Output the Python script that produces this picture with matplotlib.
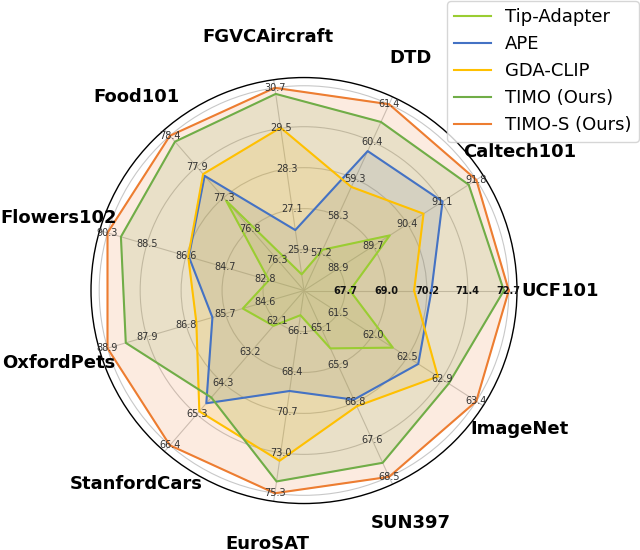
import numpy as np
import matplotlib
matplotlib.use("Agg")
import matplotlib.pyplot as plt

categories = ["UCF101", "Caltech101", "DTD", "FGVCAircraft", "Food101", "Flowers102",
              "OxfordPets", "StanfordCars", "EuroSAT", "SUN397", "ImageNet"]

tip_adapter = [67.85, 89.98, 57.30, 25.18, 77.30, 82.60, 85.20, 62.25, 65.20, 65.57, 62.25]
ape         = [70.34, 91.09, 60.08, 26.49, 77.72, 86.42, 86.03, 64.94, 69.50, 66.74, 62.60]
gda_clip    = [69.81, 90.69, 59.07, 29.52, 77.75, 86.45, 86.47, 65.22, 73.46, 66.89, 62.87]
timo        = [72.55, 91.64, 60.90, 30.52, 78.30, 89.66, 88.40, 64.74, 74.63, 68.18, 63.02]
timo_s      = [72.70, 91.80, 61.40, 30.70, 78.40, 90.30, 88.90, 66.40, 75.30, 68.50, 63.40]

tick_labels = [
    ["67.7", "69.0", "70.2", "71.4", "72.7"],
    ["88.9", "89.7", "90.4", "91.1", "91.8"],
    ["57.2", "58.3", "59.3", "60.4", "61.4"],
    ["25.9", "27.1", "28.3", "29.5", "30.7"],
    ["76.3", "76.8", "77.3", "77.9", "78.4"],
    ["82.8", "84.7", "86.6", "88.5", "90.3"],
    ["84.6", "85.7", "86.8", "87.9", "88.9"],
    ["62.1", "63.2", "64.3", "65.3", "66.4"],
    ["66.1", "68.4", "70.7", "73.0", "75.3"],
    ["65.1", "65.9", "66.8", "67.6", "68.5"],
    ["61.5", "62.0", "62.5", "62.9", "63.4"],
]

series_names = ["Tip-Adapter", "APE", "GDA-CLIP", "TIMO (Ours)", "TIMO-S (Ours)"]
series_values = [tip_adapter, ape, gda_clip, timo, timo_s]
colors = ["#9ACD32", "#4472C4", "#FFC000", "#70AD47", "#ED7D31"]

rings = [0.2, 0.4, 0.6, 0.8, 1.0]

def normalize(vals):
    out = []
    for i, v in enumerate(vals):
        lo = float(tick_labels[i][0]); hi = float(tick_labels[i][-1])
        out.append(rings[0] + (rings[-1] - rings[0]) * (v - lo) / (hi - lo))
    return out

n = len(categories)
angles = np.linspace(0, 2 * np.pi, n, endpoint=False)
ang_closed = np.concatenate([angles, angles[:1]])

fig = plt.figure(figsize=(6.4, 5.5), dpi=100)
ax = fig.add_axes([0.1422, 0.0845, 0.6656, 0.7745], projection="polar")

for name, vals, c in zip(series_names, series_values, colors):
    r = normalize(vals)
    r = r + r[:1]
    ax.fill(ang_closed, r, color=c, alpha=0.15, zorder=2)
    ax.plot(ang_closed, r, color=c, lw=1.5, label=name, zorder=3)

ax.set_ylim(0, 1.04)
ax.set_yticks(rings)
ax.set_yticklabels([])
ax.set_xticks(angles)
ax.set_xticklabels([])
ax.grid(color="#c8c8c8", lw=0.8)
ax.spines["polar"].set_color("black")
ax.spines["polar"].set_linewidth(1.0)

for i, a in enumerate(angles):
    for k, rv in enumerate(rings):
        if i == 0:
            ax.text(a, rv, tick_labels[i][k], ha="center", va="center", fontsize=7,
                    color="#111111", fontweight="bold", zorder=5)
        else:
            ax.text(a, rv, tick_labels[i][k], ha="center", va="center", fontsize=7,
                    color="#333333", zorder=5)
    ax.text(a, 1.25, categories[i], ha="center", va="center", fontsize=13,
            fontweight="bold", color="black", clip_on=False)

leg = fig.legend(loc="upper right", bbox_to_anchor=(0.998, 0.998), fontsize=13,
                 frameon=True, borderaxespad=0.0)
leg.get_frame().set_edgecolor("#cccccc")

fig.savefig("out.png", dpi=100)
